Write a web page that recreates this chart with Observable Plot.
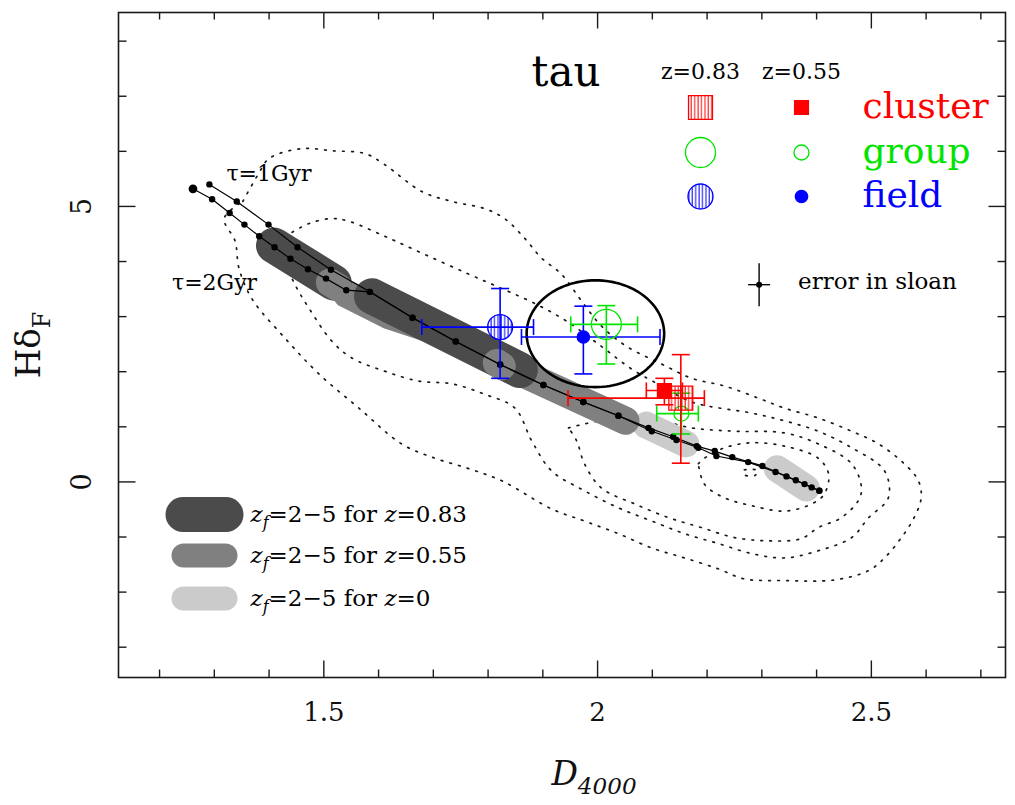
<!DOCTYPE html>
<html>
<head>
<meta charset="utf-8">
<title>HδF versus D4000 — tau models</title>
<script src="https://cdn.jsdelivr.net/npm/d3@7"></script>
<script src="https://cdn.jsdelivr.net/npm/@observablehq/plot@0.6"></script>
<style>
  html, body { margin: 0; padding: 0; background: #fff; }
  #chart svg { display: block; }
</style>
</head>
<body>
<div id="chart"></div>
<script>
const FONT = "DejaVu Serif";

// ---- axis extents and ticks -------------------------------------------
const d4000Extent = [1.125, 2.745];
const hdExtent = [-3.55, 8.52];
const xMajorTicks = [1.5, 2, 2.5];
const xMinorTicks = [1.2, 1.3, 1.4, 1.6, 1.7, 1.8, 1.9, 2.1, 2.2, 2.3, 2.4, 2.6, 2.7];
const yMajorTicks = [0, 5];
const yMinorTicks = [-3, -2, -1, 1, 2, 3, 4, 6, 7, 8];

// ---- exponentially declining SFR model tracks --------------------------
const tau1D4000 = [1.291, 1.341, 1.399, 1.452, 1.513, 1.584, 1.662, 1.741, 1.822, 1.901, 1.974,
                   2.038, 2.093, 2.138, 2.181, 2.214, 2.246, 2.301, 2.345, 2.378, 2.405];
const tau1Hd    = [5.40, 5.09, 4.67, 4.26, 3.85, 3.45, 2.98, 2.55, 2.13, 1.76, 1.45,
                   1.20, 0.98, 0.82, 0.65, 0.56, 0.45, 0.29, 0.10, -0.04, -0.16];
const tau2D4000 = [1.261, 1.296, 1.328, 1.355, 1.382, 1.410, 1.439, 1.471, 1.504, 1.541, 1.584,
                   1.662, 1.741, 1.822, 1.901, 1.974, 2.038, 2.099, 2.144, 2.184, 2.217, 2.275,
                   2.325, 2.362, 2.391, 2.405];
const tau2Hd    = [5.32, 5.13, 4.88, 4.67, 4.46, 4.26, 4.05, 3.86, 3.69, 3.48, 3.45,
                   2.98, 2.55, 2.13, 1.76, 1.45, 1.20, 0.92, 0.76, 0.62, 0.47, 0.36,
                   0.18, 0.03, -0.10, -0.16];
const trackLabels = ["τ=1Gyr", "τ=2Gyr"];

// ---- SDSS galaxy density contours [D4000, HδF] ------------------------
const sdssContour1 = [[1.352,5.09],[1.380,5.58],[1.400,5.87],[1.460,6.05],[1.515,6.01],[1.575,5.96],
  [1.611,5.76],[1.679,5.27],[1.734,5.09],[1.794,4.96],[1.830,4.78],[1.867,4.42],[1.898,4.06],
  [1.934,3.77],[1.971,3.28],[2.007,2.83],[2.053,2.46],[2.117,2.14],[2.172,1.88],[2.232,1.74],
  [2.294,1.52],[2.341,1.34],[2.403,1.16],[2.464,0.92],[2.513,0.69],[2.560,0.33],[2.586,0.02],
  [2.591,-0.29],[2.578,-0.65],[2.555,-1.01],[2.524,-1.38],[2.495,-1.61],[2.432,-1.78],[2.341,-1.79],
  [2.268,-1.76],[2.221,-1.58],[2.159,-1.38],[2.099,-1.20],[2.038,-0.94],[1.976,-0.71],[1.916,-0.49],
  [1.825,0.02],[1.765,0.24],[1.703,0.43],[1.642,0.69],[1.564,1.34],[1.491,1.96],[1.429,2.61],
  [1.369,3.32],[1.345,3.88],[1.338,4.37],[1.318,4.78],[1.352,5.09]];
const sdssContour2 = [[1.442,4.53],[1.473,4.69],[1.515,4.78],[1.546,4.73],[1.611,4.46],[1.684,4.13],
  [1.765,3.77],[1.825,3.51],[1.885,3.24],[1.943,2.92],[2.007,2.46],[2.062,2.05],[2.117,1.74],
  [2.172,1.45],[2.281,1.25],[2.341,1.11],[2.403,0.92],[2.464,0.62],[2.524,0.20],[2.531,-0.29],
  [2.495,-0.65],[2.464,-1.01],[2.403,-1.25],[2.341,-1.38],[2.281,-1.30],[2.221,-1.12],[2.159,-0.94],
  [2.099,-0.71],[2.038,-0.47],[1.976,-0.16],[1.916,0.20],[1.880,0.74],[1.849,1.34],[1.794,1.59],
  [1.734,1.78],[1.673,1.83],[1.611,2.01],[1.551,2.25],[1.515,2.55],[1.473,3.15],[1.447,3.59],
  [1.427,4.09],[1.442,4.53]];
const sdssContour3 = [[1.947,0.98],[2.007,1.11],[2.099,1.14],[2.172,0.98],[2.250,0.92],[2.341,0.89],
  [2.403,0.69],[2.464,0.33],[2.482,-0.11],[2.476,-0.34],[2.445,-0.65],[2.403,-0.83],[2.372,-1.03],
  [2.312,-1.07],[2.250,-1.01],[2.190,-0.83],[2.130,-0.65],[2.068,-0.40],[2.007,-0.11],[1.976,0.33],
  [1.962,0.74],[1.947,0.98]];
const sdssContour4 = [[2.184,0.33],[2.195,0.43],[2.232,0.62],[2.281,0.71],[2.341,0.65],[2.403,0.43],
  [2.422,0.14],[2.414,-0.22],[2.391,-0.40],[2.341,-0.53],[2.281,-0.43],[2.232,-0.29],[2.195,-0.04],
  [2.184,0.33]];
const sdssContour5 = [[2.268,0.22],[2.292,0.21],[2.288,0.12],[2.268,0.13],[2.268,0.22]];
const sdssContours = [sdssContour1, sdssContour2, sdssContour3, sdssContour4, sdssContour5];

// ---- z_f = 2–5 model loci, listed in drawing order --------------------
const bandRedshifts = ["0.83", "0.55", "0"];
const modelBands = [
  {z: "0",    pts: [[2.089, 1.03], [2.161, 0.69]]},
  {z: "0",    pts: [[2.328, 0.24], [2.381, -0.11]]},
  {z: "0.55", pts: [[1.542, 3.41], [1.62, 3.02], [1.70, 2.76], [1.80, 2.26], [2.051, 1.11]]},
  {z: "0.83", pts: [[1.409, 4.29], [1.518, 3.62]]},
  {z: "0.55", pts: [[1.511, 3.62], [1.526, 3.53]]},
  {z: "0.83", pts: [[1.588, 3.37], [1.858, 2.03]]},
  {z: "0.55", pts: [[1.816, 2.16], [1.825, 2.10]]}
];

// ---- stacked spectra measurements -----------------------------------
const environments = ["cluster", "group", "field"];
const sampleRedshifts = ["0.83", "0.55"];
const observations = [
  {env: "field",   z: "0.83", d4000: 1.822, d4000Lo: 1.679, d4000Hi: 1.883, hd: 2.81, hdLo: 1.88, hdHi: 3.51},
  {env: "field",   z: "0.55", d4000: 1.974, d4000Lo: 1.861, d4000Hi: 2.114, hd: 2.63, hdLo: 1.96, hdHi: 3.19},
  {env: "group",   z: "0.83", d4000: 2.016, d4000Lo: 1.951, d4000Hi: 2.073, hd: 2.86, hdLo: 2.14, hdHi: 3.20},
  {env: "group",   z: "0.55", d4000: 2.153, d4000Lo: 2.108, d4000Hi: 2.184, hd: 1.24, hdLo: 0.87, hdHi: 1.61},
  {env: "cluster", z: "0.83", d4000: 2.152, d4000Lo: 1.946, d4000Hi: 2.195, hd: 1.52, hdLo: 0.34, hdHi: 2.31},
  {env: "cluster", z: "0.55", d4000: 2.122, d4000Lo: 2.089, d4000Hi: 2.155, hd: 1.66, hdLo: 1.40, hdHi: 1.88}
];

// typical SDSS measurement error
const sloanError = {d4000: 2.295, hd: 3.58, errD4000: 0.02, errHd: 0.39, label: "error in sloan"};

// highlighted region around the z=0.55 field and z=0.83 group points
const highlight = {d4000: 1.996, hd: 2.69, rD4000: 0.1256, rHd: 0.969};

// ---- styles --------------------------------------------------------------
const envColor = {cluster: "#ff0000", group: "#00e400", field: "#0000ff"};
const bandStyle = {
  "0.83": {color: "#4b4b4b", width: 36, pillW: 78, pillH: 35},
  "0.55": {color: "#808080", width: 28, pillW: 66, pillH: 24},
  "0":    {color: "#cbcbcb", width: 27, pillW: 66, pillH: 24}
};
const markerStyle = {
  cluster: {"0.83": {symbol: "square", r: 13.5, kind: "hatched"}, "0.55": {symbol: "square", r: 7.8, kind: "filled"}},
  group:   {"0.83": {symbol: "circle", r: 15,   kind: "open"},    "0.55": {symbol: "circle", r: 7.5, kind: "open"}},
  field:   {"0.83": {symbol: "circle", r: 12.5, kind: "hatched"}, "0.55": {symbol: "circle", r: 6.2, kind: "filled"}}
};

// ---- helpers -------------------------------------------------------------
const toPoints = (xs, ys) => xs.map((x, i) => ({d4000: x, hd: ys[i]}));
const tau1 = toPoints(tau1D4000, tau1Hd);
const tau2 = toPoints(tau2D4000, tau2Hd);
const contourRows = sdssContours.flatMap((c, k) => c.map(([d4000, hd]) => ({level: k, d4000, hd})));
const ellipsePts = d3.range(0, 361, 3).map(a => ({
  d4000: highlight.d4000 + highlight.rD4000 * Math.cos(a * Math.PI / 180),
  hd: highlight.hd + highlight.rHd * Math.sin(a * Math.PI / 180)
}));

const segment = (dx, dy) => ({draw(ctx) { ctx.moveTo(0, 0); ctx.lineTo(dx, dy); }});
const bar = (dx, dy) => ({draw(ctx) { ctx.moveTo(-dx, -dy); ctx.lineTo(dx, dy); }});
const pill = (w, h) => ({draw(ctx) {
  const r = h / 2;
  ctx.moveTo(-w / 2 + r, -r);
  ctx.lineTo(w / 2 - r, -r);
  ctx.arc(w / 2 - r, 0, r, -Math.PI / 2, Math.PI / 2);
  ctx.lineTo(-w / 2 + r, r);
  ctx.arc(-w / 2 + r, 0, r, Math.PI / 2, 3 * Math.PI / 2);
  ctx.closePath();
}});

function markerOptions(env, z) {
  const s = markerStyle[env][z];
  const c = envColor[env];
  return {
    symbol: s.symbol, r: s.r,
    fill: s.kind === "filled" ? c : s.kind === "hatched" ? `url(#hatch-${env})` : "none",
    stroke: c, strokeWidth: 1.3
  };
}

const capV = bar(0, 8);
const capH = bar(9, 0);
const ERR_W = 1.6;

// ---- marks -----------------------------------------------------------
const marks = [];

// density contours
marks.push(Plot.line(contourRows, {
  x: "d4000", y: "hd", z: "level", stroke: "#1a1a1a", strokeWidth: 1.7,
  strokeDasharray: "1.7,7.3", curve: "catmull-rom"
}));

// model loci
for (const b of modelBands) {
  const s = bandStyle[b.z];
  marks.push(Plot.line(b.pts, {
    x: p => p[0], y: p => p[1], stroke: s.color, strokeWidth: s.width,
    strokeLinecap: "round", strokeLinejoin: "round"
  }));
}

// model tracks
marks.push(
  Plot.line(tau2, {x: "d4000", y: "hd", stroke: "#000", strokeWidth: 1.2}),
  Plot.line(tau1, {x: "d4000", y: "hd", stroke: "#000", strokeWidth: 1.2}),
  Plot.dot(tau2, {x: "d4000", y: "hd", r: 3.2, fill: "#000"}),
  Plot.dot(tau1, {x: "d4000", y: "hd", r: 3.2, fill: "#000"}),
  Plot.dot(tau2.slice(0, 1), {x: "d4000", y: "hd", r: 4.4, fill: "#000"}),
  Plot.text(tau1.slice(0, 1), {x: "d4000", y: "hd", text: () => trackLabels[0], textAnchor: "start",
    lineAnchor: "middle", dx: 17, dy: -10, fontSize: 22, fontFamily: FONT, fill: "#000"}),
  Plot.text(tau2.slice(0, 1), {x: "d4000", y: "hd", text: () => trackLabels[1], textAnchor: "start",
    lineAnchor: "middle", dx: -21, dy: 94, fontSize: 22, fontFamily: FONT, fill: "#000"})
);

// highlight ellipse
marks.push(Plot.line(ellipsePts, {x: "d4000", y: "hd", stroke: "#000", strokeWidth: 2.6}));

// measurements with error bars
for (const o of observations) {
  const c = envColor[o.env];
  marks.push(
    Plot.link([o], {x1: "d4000Lo", x2: "d4000Hi", y1: "hd", y2: "hd", stroke: c, strokeWidth: ERR_W}),
    Plot.link([o], {x1: "d4000", x2: "d4000", y1: "hdLo", y2: "hdHi", stroke: c, strokeWidth: ERR_W}),
    Plot.dot([o], {x: "d4000Lo", y: "hd", symbol: capV, fill: "none", stroke: c, strokeWidth: ERR_W}),
    Plot.dot([o], {x: "d4000Hi", y: "hd", symbol: capV, fill: "none", stroke: c, strokeWidth: ERR_W}),
    Plot.dot([o], {x: "d4000", y: "hdLo", symbol: capH, fill: "none", stroke: c, strokeWidth: ERR_W}),
    Plot.dot([o], {x: "d4000", y: "hdHi", symbol: capH, fill: "none", stroke: c, strokeWidth: ERR_W}),
    Plot.dot([o], {x: "d4000", y: "hd", ...markerOptions(o.env, o.z)})
  );
}

// SDSS error cross
marks.push(
  Plot.link([sloanError], {x1: d => d.d4000 - d.errD4000, x2: d => d.d4000 + d.errD4000,
    y1: "hd", y2: "hd", stroke: "#000", strokeWidth: 1.4}),
  Plot.link([sloanError], {x1: "d4000", x2: "d4000", y1: d => d.hd - d.errHd,
    y2: d => d.hd + d.errHd, stroke: "#000", strokeWidth: 1.4}),
  Plot.dot([sloanError], {x: "d4000", y: "hd", r: 3, fill: "#000"}),
  Plot.text([sloanError], {x: "d4000", y: "hd", text: "label", textAnchor: "start", lineAnchor: "middle",
    dx: 39, dy: -3, fontSize: 23, fontFamily: FONT, fill: "#000", letterSpacing: 1})
);

// text placed relative to the plot frame
const frameText = (label, anchor, dx, dy, opts) => Plot.text([label], {
  frameAnchor: anchor, text: d => d, dx, dy, lineAnchor: "middle", fontFamily: FONT, fill: "#000", ...opts
});

// environment legend (top right)
const legendCols = {"0.83": 582, "0.55": 683};
const legendRows = {cluster: 95, group: 140, field: 184};
marks.push(frameText("tau", "top-left", 413, 60, {textAnchor: "start", fontSize: 42}));
for (const z of sampleRedshifts) {
  marks.push(frameText(`z=${z}`, "top-left", legendCols[z], 59, {textAnchor: "middle", fontSize: 22}));
}
for (const env of environments) {
  for (const z of sampleRedshifts) {
    marks.push(Plot.dot([env], {frameAnchor: "top-left", dx: legendCols[z], dy: legendRows[env],
      ...markerOptions(env, z)}));
  }
  marks.push(frameText(env, "top-left", 744, legendRows[env] - 1,
    {textAnchor: "start", fontSize: 36, fill: envColor[env]}));
}

// model legend (bottom left)
const bandRows = {"0.83": 502, "0.55": 543, "0": 586};
for (const z of bandRedshifts) {
  const s = bandStyle[z];
  marks.push(
    Plot.dot([z], {frameAnchor: "top-left", dx: 86, dy: bandRows[z], symbol: pill(s.pillW, s.pillH),
      fill: s.color, stroke: "none"}),
    frameText(`z_f=2−5 for z=${z}`, "top-left", 132, bandRows[z], {textAnchor: "start", fontSize: 23})
  );
}

// ticks on all four sides, pointing inward
const TICK = {stroke: "#1a1a1a", strokeWidth: 1.4, fill: "none"};
marks.push(
  Plot.dot(xMinorTicks, {x: d => d, frameAnchor: "bottom", symbol: segment(0, -8), ...TICK}),
  Plot.dot(xMajorTicks, {x: d => d, frameAnchor: "bottom", symbol: segment(0, -17), ...TICK}),
  Plot.dot(xMinorTicks, {x: d => d, frameAnchor: "top", symbol: segment(0, 7), ...TICK}),
  Plot.dot(xMajorTicks, {x: d => d, frameAnchor: "top", symbol: segment(0, 16), ...TICK}),
  Plot.dot(yMinorTicks, {y: d => d, frameAnchor: "left", symbol: segment(8, 0), ...TICK}),
  Plot.dot(yMajorTicks, {y: d => d, frameAnchor: "left", symbol: segment(17, 0), ...TICK}),
  Plot.dot(yMinorTicks, {y: d => d, frameAnchor: "right", symbol: segment(-8, 0), ...TICK}),
  Plot.dot(yMajorTicks, {y: d => d, frameAnchor: "right", symbol: segment(-17, 0), ...TICK}),
  Plot.text(xMajorTicks, {x: d => d, text: d => String(d), frameAnchor: "bottom", dy: 35,
    textAnchor: "middle", lineAnchor: "middle", fontSize: 26, fontFamily: FONT, fill: "#111"}),
  Plot.text(yMajorTicks, {y: d => d, text: d => String(d), frameAnchor: "left", dx: -36, rotate: -90,
    textAnchor: "middle", lineAnchor: "middle", fontSize: 27, fontFamily: FONT, fill: "#111"}),
  frameText("D_4000", "bottom", 32, 97, {textAnchor: "middle", fontSize: 33, fill: "#111"}),
  frameText("Hδ_F", "left", -89, 0, {textAnchor: "middle", rotate: -90, fontSize: 34, fill: "#111"}),
  Plot.frame({stroke: "#1a1a1a", strokeWidth: 1.6})
);

const svg = Plot.plot({
  width: 1015, height: 805,
  marginLeft: 118, marginRight: 10, marginTop: 12, marginBottom: 128,
  style: {fontFamily: FONT, background: "#fff"},
  x: {domain: d4000Extent, axis: null},
  y: {domain: hdExtent, axis: null},
  marks
});

// vertical hatching used by the z=0.83 markers
const defs = d3.select(svg).insert("defs", ":first-child");
for (const env of environments) {
  const p = defs.append("pattern").attr("id", `hatch-${env}`)
    .attr("patternUnits", "userSpaceOnUse").attr("width", 3.4).attr("height", 6);
  p.append("line").attr("x1", 1).attr("x2", 1).attr("y1", 0).attr("y2", 6)
    .attr("stroke", envColor[env]).attr("stroke-width", 1);
}

// labels with italic symbols and subscripts
const NS = "http://www.w3.org/2000/svg";
function richText(el, parts) {
  el.textContent = "";
  let lowered = false;
  for (const [t, s] of parts) {
    const ts = document.createElementNS(NS, "tspan");
    ts.textContent = t;
    if (s.includes("i")) ts.setAttribute("font-style", "italic");
    if (s.includes("sub")) {
      ts.setAttribute("font-size", "70%");
      ts.setAttribute("dy", "0.4em");
      lowered = true;
    } else if (lowered) {
      ts.setAttribute("dy", "-0.28em");
      lowered = false;
    }
    el.appendChild(ts);
  }
}
const richParts = {"D_4000": [["D", "i"], ["4000", "isub"]], "Hδ_F": [["Hδ", ""], ["F", "sub"]]};
for (const z of bandRedshifts) {
  richParts[`z_f=2−5 for z=${z}`] = [["z", "i"], ["f", "isub"], ["=2−5 for ", ""], ["z", "i"], [`=${z}`, ""]];
}
svg.querySelectorAll("text").forEach(el => {
  const parts = richParts[el.textContent];
  if (parts) richText(el, parts);
});

document.getElementById("chart").appendChild(svg);
</script>
</body>
</html>
